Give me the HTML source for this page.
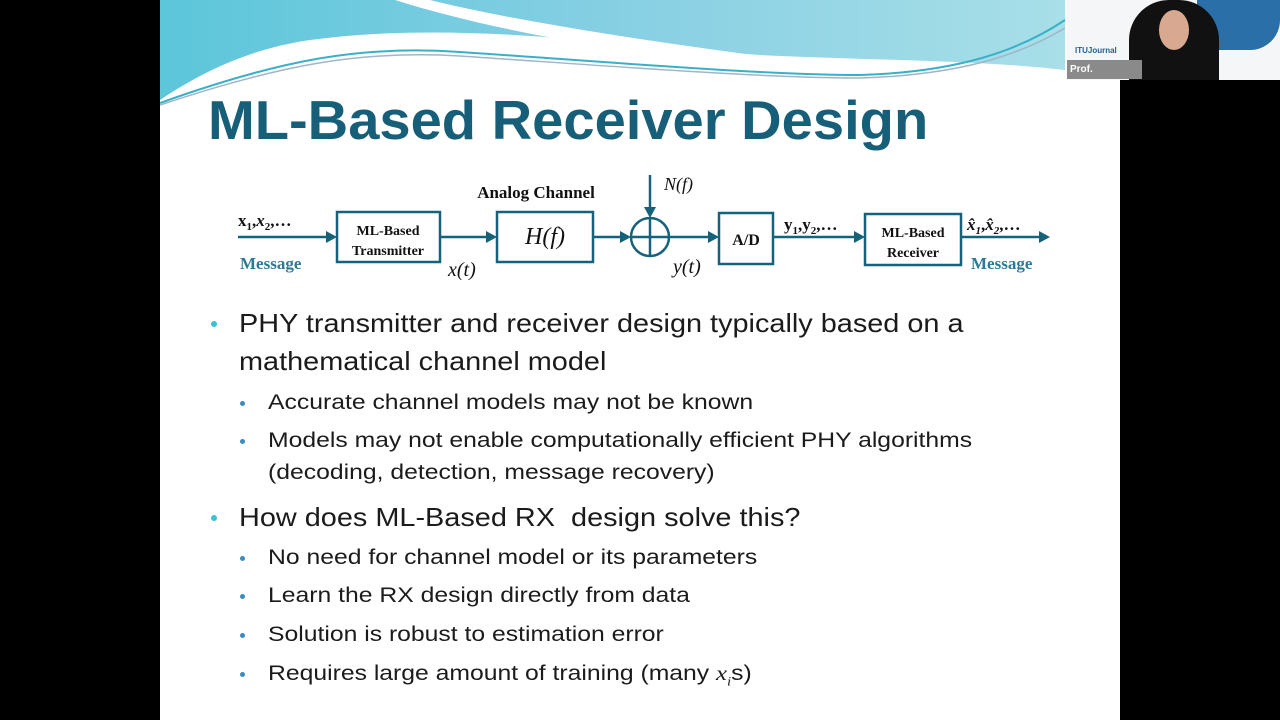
<!DOCTYPE html>
<html><head><style>
body{margin:0;width:1280px;height:720px;background:#000;position:relative;overflow:hidden;font-family:"Liberation Sans",sans-serif}
#slide{position:absolute;left:160px;top:0;width:960px;height:720px;background:#fff;overflow:hidden}
.t{position:absolute;white-space:nowrap;color:#1b1b1b;transform-origin:0 0}
.b1{font-size:26px;transform:scaleX(1.11)}
.b2{font-size:21.5px;transform:scaleX(1.15)}
.dot{position:absolute;border-radius:50%}
</style></head><body>
<div id="slide">
<svg width="960" height="110" style="position:absolute;left:0;top:0">
<defs><linearGradient id="g" x1="0" y1="0" x2="1" y2="0"><stop offset="0" stop-color="#5cc6da"/><stop offset="0.5" stop-color="#86cfe3"/><stop offset="1" stop-color="#a8dfe8"/></linearGradient></defs>
<path d="M0 0 H905 V70 C820 60 700 60 600 55 C450 45 300 20 150 40 C80 50 30 80 0 100 Z" fill="url(#g)"/>
<path d="M235 0 C330 30 450 50 560 62 L600 56 C480 40 350 20 270 0 Z" fill="#fff"/>
<path d="M0 103 C120 60 200 45 300 52 C450 62 600 75 700 75 C800 72 860 50 905 20" stroke="#3ab0c8" stroke-width="2" fill="none"/>
<path d="M0 105 C120 65 200 50 300 56 C450 66 600 78 700 78 C800 75 860 55 905 28" stroke="#9fb6c8" stroke-width="1.5" fill="none"/>
</svg>
<div class="t" style="left:48px;top:88px;font-size:55px;font-weight:bold;color:#175f78;transform:scaleX(1.02)">ML-Based Receiver Design</div>
<svg width="960" height="110" style="position:absolute;left:0;top:170px" font-family="Liberation Serif" font-weight="bold">
<g stroke="#16627a" stroke-width="2.5" fill="none">
<line x1="78" y1="67" x2="170" y2="67"/><line x1="280" y1="67" x2="330" y2="67"/>
<line x1="433" y1="67" x2="465" y2="67"/><line x1="509" y1="67" x2="552" y2="67"/>
<line x1="490" y1="5" x2="490" y2="40"/>
<line x1="613" y1="67" x2="697" y2="67"/><line x1="801" y1="67" x2="880" y2="67"/>
<rect x="177" y="42" width="103" height="50"/><rect x="337" y="42" width="96" height="50"/>
<circle cx="490" cy="67" r="19"/><line x1="471" y1="67" x2="509" y2="67"/><line x1="490" y1="48" x2="490" y2="86"/>
<rect x="559" y="43" width="54" height="51"/><rect x="705" y="44" width="96" height="51"/>
</g>
<g fill="#16627a">
<path d="M177 67 l-11 -6 v12z"/><path d="M337 67 l-11 -6 v12z"/><path d="M471 67 l-11 -6 v12z"/>
<path d="M559 67 l-11 -6 v12z"/><path d="M705 67 l-11 -6 v12z"/><path d="M890 67 l-11 -6 v12z"/><path d="M490 48 l-6 -11 h12z"/>
</g>
<g font-size="14" text-anchor="middle" fill="#111"><text x="228" y="65">ML-Based</text><text x="228" y="85">Transmitter</text>
<text x="753" y="67">ML-Based</text><text x="753" y="87">Receiver</text></g>
<text x="586" y="75" font-size="16" text-anchor="middle" fill="#111">A/D</text>
<text x="385" y="74" font-size="24" font-weight="normal" font-style="italic" text-anchor="middle" fill="#111">H(f)</text>
<text x="376" y="28" font-size="17" text-anchor="middle" fill="#111">Analog Channel</text>
<text x="504" y="20" font-size="18" font-weight="normal" font-style="italic" fill="#111">N(f)</text>
<text x="288" y="106" font-size="20" font-weight="normal" font-style="italic" fill="#111">x(t)</text>
<text x="513" y="103" font-size="20" font-weight="normal" font-style="italic" fill="#111">y(t)</text>
<text x="78" y="56" font-size="17" fill="#111">x<tspan font-size="11" dy="4">1</tspan><tspan dy="-4">,</tspan><tspan font-style="italic">x</tspan><tspan font-size="11" dy="4">2</tspan><tspan dy="-4">,…</tspan></text>
<text x="624" y="60" font-size="17" fill="#111">y<tspan font-size="11" dy="4">1</tspan><tspan dy="-4">,y</tspan><tspan font-size="11" dy="4">2</tspan><tspan dy="-4">,…</tspan></text>
<text x="807" y="60" font-size="17" font-style="italic" fill="#111">x̂<tspan font-size="11" dy="4">1</tspan><tspan dy="-4" font-style="normal">,</tspan>x̂<tspan font-size="11" dy="4">2</tspan><tspan dy="-4" font-style="normal">,…</tspan></text>
<text x="80" y="99" font-size="17" fill="#2e7a95">Message</text>
<text x="811" y="99" font-size="17" fill="#2e7a95">Message</text>
</svg>
<div class="dot" style="left:51px;top:321px;width:6px;height:6px;background:#3cc0d6"></div>
<div class="t b1" style="left:79px;top:308px">PHY transmitter and receiver design typically based on a</div>
<div class="t b1" style="left:79px;top:346px">mathematical channel model</div>
<div class="dot" style="left:80px;top:401px;width:5px;height:5px;background:#3a8cc0"></div>
<div class="t b2" style="left:108px;top:390px">Accurate channel models may not be known</div>
<div class="dot" style="left:80px;top:439px;width:5px;height:5px;background:#3a8cc0"></div>
<div class="t b2" style="left:108px;top:428px">Models may not enable computationally efficient PHY algorithms</div>
<div class="t b2" style="left:108px;top:460px">(decoding, detection, message recovery)</div>
<div class="dot" style="left:51px;top:515px;width:6px;height:6px;background:#3cc0d6"></div>
<div class="t b1" style="left:79px;top:502px">How does ML-Based RX&nbsp; design solve this?</div>
<div class="dot" style="left:80px;top:556px;width:5px;height:5px;background:#3a8cc0"></div>
<div class="t b2" style="left:108px;top:545px">No need for channel model or its parameters</div>
<div class="dot" style="left:80px;top:594px;width:5px;height:5px;background:#3a8cc0"></div>
<div class="t b2" style="left:108px;top:583px">Learn the RX design directly from data</div>
<div class="dot" style="left:80px;top:633px;width:5px;height:5px;background:#3a8cc0"></div>
<div class="t b2" style="left:108px;top:622px">Solution is robust to estimation error</div>
<div class="dot" style="left:80px;top:672px;width:5px;height:5px;background:#3a8cc0"></div>
<div class="t b2" style="left:108px;top:661px">Requires large amount of training (many <i style="font-family:'Liberation Serif'">x<sub style="font-size:13px">i</sub></i>s)</div>
</div>
<div style="position:absolute;left:1067px;top:0;width:213px;height:80px;background:#f4f6f7;overflow:hidden">
<div style="position:absolute;left:130px;top:0;width:83px;height:50px;background:#2a6fa8;border-radius:0 0 30px 20px"></div>
<div style="position:absolute;left:62px;top:0;width:90px;height:80px;background:#111;border-radius:40px 40px 0 0"></div>
<div style="position:absolute;left:92px;top:10px;width:30px;height:40px;background:#d9a890;border-radius:50%"></div>
<div style="position:absolute;left:8px;top:46px;font-size:8px;font-weight:bold;color:#1f5d9a">ITUJournal</div>
<div style="position:absolute;left:0;top:60px;width:72px;height:19px;background:#8a8a8a;color:#fff;font-size:10px;font-weight:bold;line-height:19px;padding-left:3px">Prof. Goldsmith</div>
</div>
</body></html>
